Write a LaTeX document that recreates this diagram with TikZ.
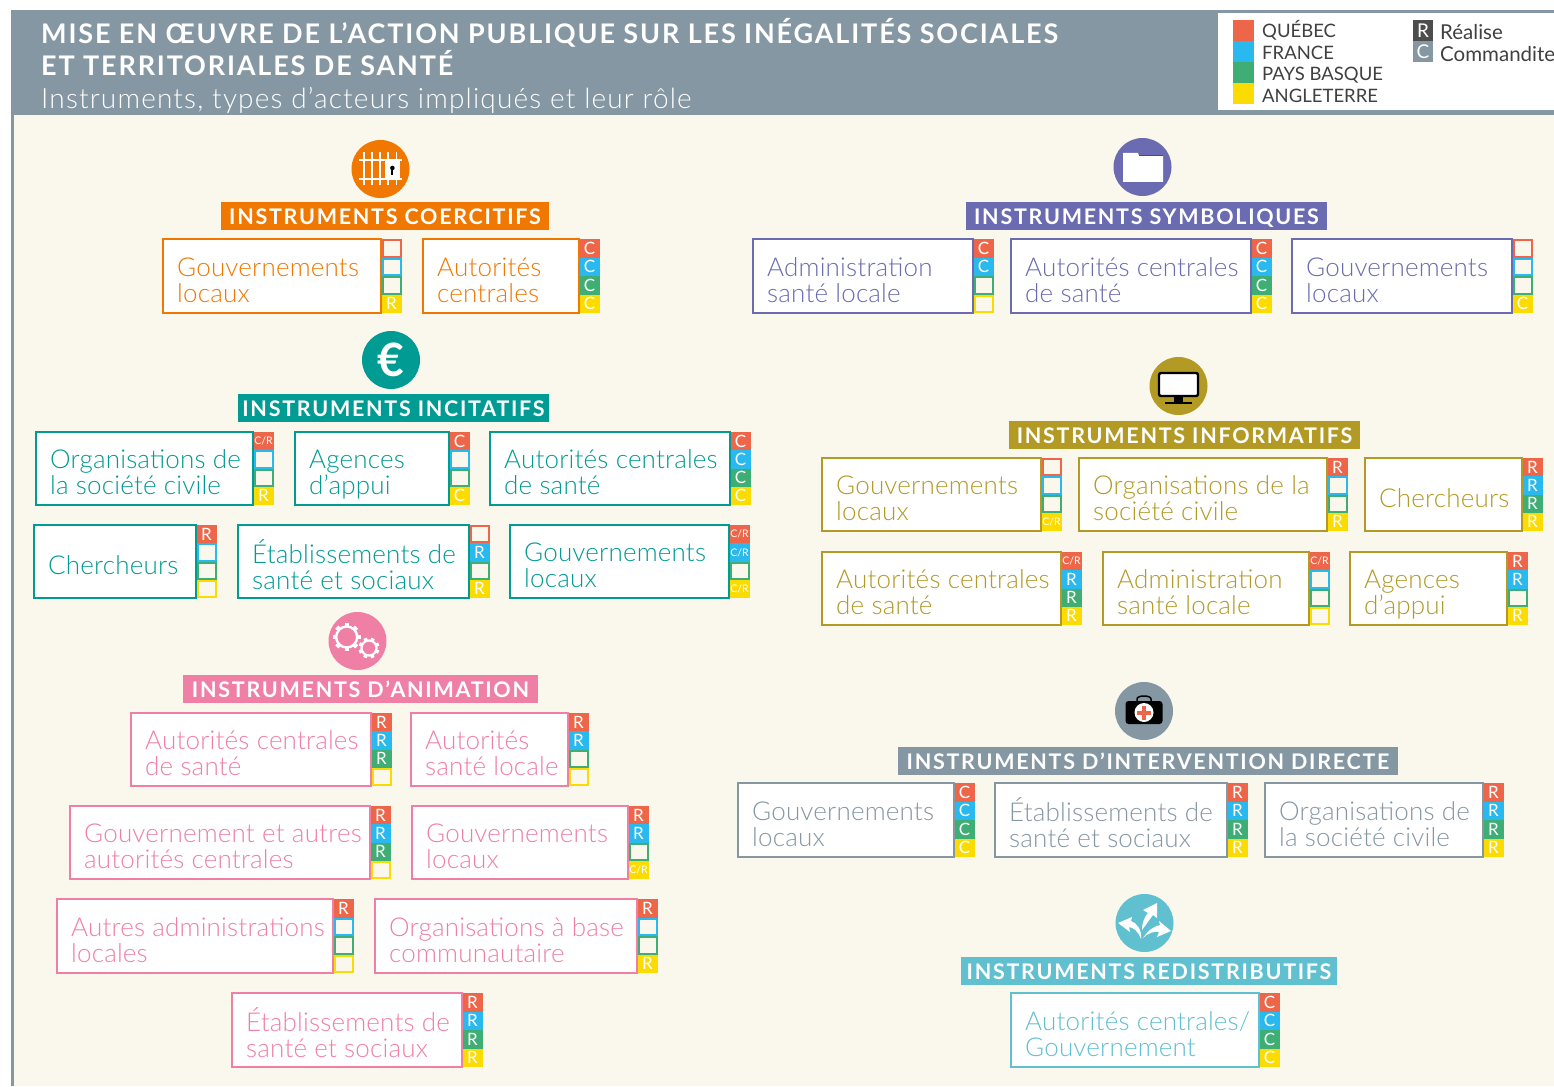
\documentclass[tikz,border=0pt]{standalone}
\usepackage{fontspec}
\setmainfont{Lato Light}[BoldFont={Lato Bold}]
\newfontfamily\headfont{Lato Bold}[LetterSpace=8]
\newfontfamily\titlefont{Lato Bold}[LetterSpace=6.8]
\newfontfamily\legfont{Lato}
\newfontfamily\boxfont{Lato Light}[LetterSpace=0.7]
\newfontfamily\subfont{Lato Light}[LetterSpace=4.2]
\definecolor{cream}{HTML}{FAF7EC}
\definecolor{slate}{HTML}{8497A2}
\definecolor{qc}{HTML}{EE6649}
\definecolor{fr}{HTML}{29B9EE}
\definecolor{pb}{HTML}{3FAE74}
\definecolor{an}{HTML}{FBDB00}
\definecolor{dk}{HTML}{4D4D4D}
\definecolor{corg}{HTML}{F07800}
\definecolor{csym}{HTML}{6A6BB0}
\definecolor{cinc}{HTML}{009B93}
\definecolor{cinf}{HTML}{B29A24}
\definecolor{cani}{HTML}{F07FA6}
\definecolor{cint}{HTML}{8497A2}
\definecolor{cred}{HTML}{60C0D0}
\tikzset{
  actorbox/.style={draw,line width=2pt,fill=white,anchor=north west,inner sep=0pt,outer sep=0pt},
  actortext/.style={anchor=west,align=left,inner sep=0pt,font=\boxfont\fontsize{26}{26}\selectfont},
  cellbox/.style={anchor=north west,inner sep=0pt,outer sep=0pt,line width=2pt,text=white,font=\legfont\fontsize{17}{17}\selectfont},
  bannerbox/.style={inner sep=0pt,outer sep=0pt,text=white,text height=17pt,text depth=0pt,font=\headfont\fontsize{21.5}{21.5}\selectfont},
  iconbg/.style={circle,inner sep=0pt,minimum size=58pt},
  legtext/.style={anchor=base west,inner sep=0pt,text=black!75,font=\legfont\fontsize{18.5}{18.5}\selectfont},
  roletext/.style={anchor=base west,inner sep=0pt,text=black!75,font=\legfont\fontsize{20.5}{20.5}\selectfont},
  swatch/.style={anchor=north west,inner sep=0pt,outer sep=0pt,minimum width=21pt,minimum height=21pt},
  roleswatch/.style={anchor=north west,inner sep=0pt,outer sep=0pt,text=white,minimum width=20pt,minimum height=21pt,font=\legfont\fontsize{19}{19}\selectfont},
  titletext/.style={anchor=base west,inner sep=0pt,text=white,font=\titlefont\fontsize{27}{27}\selectfont},
}
\newcommand{\crl}{{\fontsize{10.5}{10.5}\selectfont C/R}}
\newcommand{\onecell}[6]{% name x y h colour text
  \if\relax\detokenize{#6}\relax
    \node[cellbox,draw=#5,fill=cream,minimum width=18pt,minimum height=#4-2pt] (#1) at (#2+1,#3+1) {};
  \else
    \node[cellbox,fill=#5,minimum width=20pt,minimum height=#4] (#1) at (#2,#3) {#6};
  \fi}
\def\cellsplit#1#2#3#4#5,#6,#7,#8\relax{%
  \pgfmathsetmacro{\ch}{(#4-#3)/4}%
  \pgfmathsetmacro{\ya}{#3}\pgfmathsetmacro{\yb}{#3+\ch}\pgfmathsetmacro{\yc}{#3+2*\ch}\pgfmathsetmacro{\yd}{#3+3*\ch}%
  \onecell{#1-q}{#2}{\ya}{\ch pt}{qc}{#5}\onecell{#1-f}{#2}{\yb}{\ch pt}{fr}{#6}%
  \onecell{#1-p}{#2}{\yc}{\ch pt}{pb}{#7}\onecell{#1-a}{#2}{\yd}{\ch pt}{an}{#8}}
% id x0 y0 x1 y1 colour text cells
\newcommand{\actor}[8]{%
  \pgfmathsetmacro{\bw}{#4-#2}\pgfmathsetmacro{\bh}{#5-#3}\pgfmathsetmacro{\cx}{#4+0.5}%
  \pgfmathsetmacro{\tx}{#2+14}\pgfmathsetmacro{\ty}{(#3+#5)/2+6}%
  \node[actorbox,draw=#6,minimum width=\bw pt,minimum height=\bh pt] (#1) at (#2,#3) {};%
  \node[actortext,text=#6] (#1-t) at (\tx,\ty) {\rule{0pt}{20pt}#7\rule[-6pt]{0pt}{6pt}};%
  \edef\tmpa{\noexpand\cellsplit{#1}{\cx}{#3}{#5}}\tmpa #8\relax}
\newcommand{\banner}[7]{% id x0 y0 x1 y1 colour text
  \node[bannerbox,fill=#6,minimum width=#4pt-#2pt,minimum height=#5pt-#3pt,anchor=north west] (#1) at (#2,#3) {#7};}
\begin{document}
\begin{tikzpicture}[x=1pt,y=-1pt]
\useasboundingbox (0,0) rectangle (1554,1086);
\fill[white] (0,0) rectangle (1554,1086);
\fill[cream] (12,114) rectangle (1554,1086);
\fill[slate] (12,10) rectangle (1554,115);
\fill[slate] (11,10) rectangle (14,1086);
\node[titletext] (t1) at (41,44) {MISE EN ŒUVRE DE L’ACTION PUBLIQUE SUR LES INÉGALITÉS SOCIALES};
\node[titletext] (t2) at (41,76) {ET TERRITORIALES DE SANTÉ};
\node[anchor=base west,inner sep=0pt,text=white,font=\subfont\fontsize{28}{28}\selectfont] (t3) at (41,109) {Instruments, types d’acteurs impliqués et leur rôle};
% legend
\node[fill=white,anchor=north west,inner sep=0pt,outer sep=0pt,minimum width=336pt,minimum height=97pt] (legend) at (1218,13) {};
\node[swatch,fill=qc] (lq) at (1233,20.5) {};
\node[swatch,fill=fr] (lf) at (1233,41.5) {};
\node[swatch,fill=pb] (lp) at (1233,62) {};
\node[swatch,fill=an] (la) at (1233,83) {};
\node[legtext] (tq) at (1262,38) {QUÉBEC};
\node[legtext] (tf) at (1262,59.5) {FRANCE};
\node[legtext] (tp) at (1262,81) {PAYS BASQUE};
\node[legtext] (ta) at (1262,102.5) {ANGLETERRE};
\node[roleswatch,fill=dk] (lr) at (1413,20.5) {R};
\node[roleswatch,fill=slate] (lc) at (1413,41.5) {C};
\node[roletext] (tr) at (1440,39.5) {Réalise};
\node[roletext] (tc) at (1440,61.5) {Commandite};
% ---------- icons ----------
% coercitifs
\node[iconbg,fill=corg] (icoer) at (380.5,169) {};
\foreach \xx in {364,372,380,388,396.5}{\draw[white,line width=1.6pt] (\xx,152) -- (\xx,185);}
\draw[white,line width=1.6pt] (359,160) -- (402,160) (359,179) -- (402,179);
\fill[white] (385,160) rectangle (400,179);
\fill[black] (392.4,168) circle (2.3pt);
\fill[black] (391.4,168) rectangle (393.4,175);
% symboliques
\node[iconbg,fill=csym] (isym) at (1142.5,167) {};
\fill[white] (1123,153) -- (1138,153) -- (1139,156) -- (1163,156) -- (1163,182) -- (1123,182) -- cycle;
\draw[dk,line width=1pt] (1139,155.5) -- (1163,155.5);
% incitatifs
\node[iconbg,fill=cinc,text=white,font=\legfont\bfseries\fontsize{46}{46}\selectfont] (iinc) at (391,360) {€};
% informatifs
\node[iconbg,fill=cinf] (iinf) at (1178.5,386) {};
\draw[black,fill=white,line width=2.4pt,rounded corners=2pt] (1159,373) rectangle (1198,396);
\fill[black] (1174,397) rectangle (1183,402);
\draw[black,line width=1.5pt] (1165,403) -- (1192,403);
% animation
\node[iconbg,fill=cani] (iani) at (357.5,641) {};
\draw[white,line width=2.4pt] (346.7,637) circle (10.5pt);
\foreach \aa in {0,45,...,315}{\fill[white,shift={(346.7,637)},rotate=\aa] (11,-2.2) rectangle (14,2.2);}
\draw[white,line width=2.2pt] (369,648) circle (7.5pt);
\foreach \aa in {22,67,...,337}{\fill[white,shift={(369,648)},rotate=\aa] (8,-1.8) rectangle (10.5,1.8);}
% intervention
\node[iconbg,fill=cint] (iint) at (1144,711) {};
\draw[black,line width=1.5pt] (1137,703) -- (1137,699) .. controls (1137,695) and (1151,695) .. (1151,699) -- (1151,703);
\fill[black,rounded corners=3pt] (1125.5,701) rectangle (1162.5,724);
\fill[white] (1144,712.5) circle (9.5pt);
\fill[qc] (1142,705.5) rectangle (1146,719.5);
\fill[qc] (1137,710.5) rectangle (1151,714.5);
% redistributifs
\node[iconbg,fill=cred] (ired) at (1144.5,923) {};
\fill[white] (1142,930) .. controls (1142,922) and (1145,916) .. (1148,913) -- (1143,910) -- (1157,903) -- (1157,918) -- (1153,915) .. controls (1149,920) and (1146,925) .. (1142,930) -- cycle;
\fill[white] (1141,939) .. controls (1138,931) and (1134,928) .. (1129,927) -- (1130,932) -- (1118,923) -- (1132,917) -- (1131,921) .. controls (1137,923) and (1142,930) .. (1141,939) -- cycle;
\fill[white] (1143,938) .. controls (1149,929) and (1155,926) .. (1160,925) -- (1159,921) -- (1171,931) -- (1157,937) -- (1159,932) .. controls (1154,931) and (1148,933) .. (1143,938) -- cycle;
% ---------- banners ----------
\banner{bcoer}{221}{202}{549}{230}{corg}{INSTRUMENTS COERCITIFS}
\banner{bsym}{966}{202}{1327}{230}{csym}{INSTRUMENTS SYMBOLIQUES}
\banner{binc}{238}{394}{549}{422}{cinc}{INSTRUMENTS INCITATIFS}
\banner{binf}{1009}{421}{1360}{449}{cinf}{INSTRUMENTS INFORMATIFS}
\banner{bani}{183}{675}{538}{703}{cani}{INSTRUMENTS D’ANIMATION}
\banner{bint}{898}{747}{1398}{775}{cint}{INSTRUMENTS D’INTERVENTION DIRECTE}
\banner{bred}{961}{957}{1337}{985}{cred}{INSTRUMENTS REDISTRIBUTIFS}
% ---------- coercitifs ----------
\actor{a1}{163}{239}{381}{313}{corg}{Gouvernements\\locaux}{,,,R}
\actor{a2}{423}{239}{579}{313}{corg}{Autorités\\centrales}{C,C,C,C}
% symboliques
\actor{b1}{753}{239}{973}{313}{csym}{Administration\\santé locale}{C,C,,}
\actor{b2}{1011}{239}{1251}{313}{csym}{Autorités centrales\\de santé}{C,C,C,C}
\actor{b3}{1292}{239}{1512}{313}{csym}{Gouvernements\\locaux}{,,,C}
% incitatifs
\actor{c1}{36}{432}{253}{505}{cinc}{Organisations de\\la société civile}{\crl,,,R}
\actor{c2}{295}{432}{449}{505}{cinc}{Agences\\d’appui}{C,,,C}
\actor{c3}{490}{432}{730}{505}{cinc}{Autorités centrales\\de santé}{C,C,C,C}
\actor{c4}{34}{525}{196}{598}{cinc}{Chercheurs}{R,,,}
\actor{c5}{238}{525}{469}{598}{cinc}{Établissements de\\santé et sociaux}{,R,,R}
\actor{c6}{510}{525}{729}{598}{cinc}{Gouvernements\\locaux}{\crl,\crl,,\crl}
% informatifs
\actor{d1}{822}{458}{1041}{531}{cinf}{Gouvernements\\locaux}{,,,\crl}
\actor{d2}{1079}{458}{1327}{531}{cinf}{Organisations de la\\société civile}{R,,,R}
\actor{d3}{1365}{458}{1522}{531}{cinf}{Chercheurs}{R,R,R,R}
\actor{d4}{822}{552}{1061}{625}{cinf}{Autorités centrales\\de santé}{\crl,R,R,R}
\actor{d5}{1103}{552}{1309}{625}{cinf}{Administration\\santé locale}{\crl,,,}
\actor{d6}{1350}{552}{1507}{625}{cinf}{Agences\\d’appui}{R,R,,R}
% animation
\actor{e1}{131}{713}{371}{786}{cani}{Autorités centrales\\de santé}{R,R,R,}
\actor{e2}{411}{713}{568}{786}{cani}{Autorités\\santé locale}{R,R,,}
\actor{e3}{70}{806}{370}{879}{cani}{Gouvernement et autres\\autorités centrales}{R,R,R,}
\actor{e4}{412}{806}{628}{879}{cani}{Gouvernements\\locaux}{R,R,,\crl}
\actor{e5}{57}{899}{333}{973}{cani}{Autres administrations\\locales}{R,,,}
\actor{e6}{375}{899}{637}{973}{cani}{Organisations à base\\communautaire}{R,,,R}
\actor{e7}{232}{993}{462}{1067}{cani}{Établissements de\\santé et sociaux}{R,R,R,R}
% intervention
\actor{f1}{738}{783}{954}{857}{cint}{Gouvernements\\locaux}{C,C,C,C}
\actor{f2}{995}{783}{1227}{857}{cint}{Établissements de\\santé et sociaux}{R,R,R,R}
\actor{f3}{1265}{783}{1483}{857}{cint}{Organisations de\\la société civile}{R,R,R,R}
% redistributifs
\actor{g1}{1011}{993}{1259}{1067}{cred}{Autorités centrales/\\Gouvernement}{C,C,C,C}
\end{tikzpicture}
\end{document}
